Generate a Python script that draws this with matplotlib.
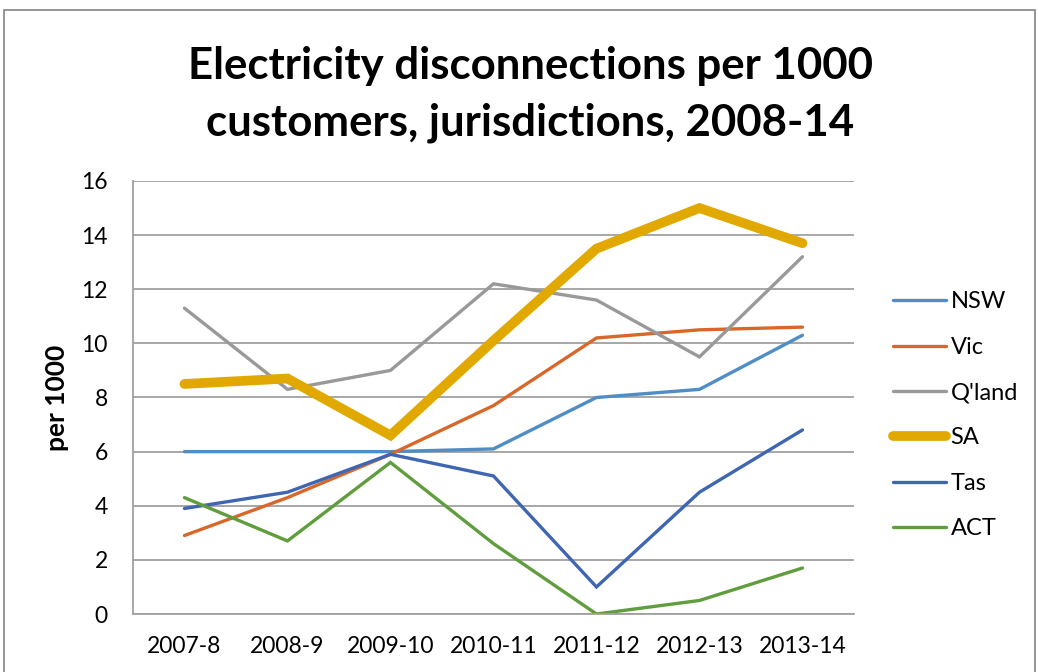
import matplotlib.pyplot as plt
from matplotlib.patches import Rectangle

# disconnections per 1000 customers, by financial year
years = ["2007-8", "2008-9", "2009-10", "2010-11", "2011-12", "2012-13", "2013-14"]
nsw = [6.0, 6.0, 6.0, 6.1, 8.0, 8.3, 10.3]
vic = [2.9, 4.3, 5.9, 7.7, 10.2, 10.5, 10.6]
qld = [11.3, 8.3, 9.0, 12.2, 11.6, 9.5, 13.2]
sa = [8.5, 8.7, 6.6, 10.1, 13.5, 15.0, 13.7]
tas = [3.9, 4.5, 5.9, 5.1, 1.0, 4.5, 6.8]
act = [4.3, 2.7, 5.6, 2.6, 0.0, 0.5, 1.7]

plt.rcParams['font.family'] = ['Lato', 'DejaVu Sans']

fig = plt.figure(figsize=(10.38, 6.72), dpi=100)
ax = fig.add_axes([0.1281, 0.0863, 0.6946, 0.6444])

x = range(len(years))
series = [
    ("NSW", nsw, "#4E8DC6", 2.4),
    ("Vic", vic, "#D8682A", 2.4),
    ("Q'land", qld, "#999999", 2.4),
    ("SA", sa, "#E1A900", 7.0),
    ("Tas", tas, "#3F66B3", 2.4),
    ("ACT", act, "#609D3D", 2.4),
]
for name, vals, col, lw in series:
    ax.plot(x, vals, color=col, lw=lw, label=name, solid_capstyle='round',
            solid_joinstyle='miter')

ax.set_xlim(-0.5, len(years) - 0.5)
ax.set_ylim(0, 16)
ax.set_yticks(range(0, 17, 2))
ax.set_xticks(list(x))
ax.set_xticklabels(years)
ax.tick_params(axis='both', length=0, labelsize=16.5, colors='black')
ax.tick_params(axis='y', pad=18)
ax.tick_params(axis='x', pad=16)
ax.grid(axis='y', color='#A0A0A0', lw=1.3)
ax.set_axisbelow(True)
for s in ['top', 'right']:
    ax.spines[s].set_visible(False)
for s in ['left', 'bottom']:
    ax.spines[s].set_color('#A0A0A0')
    ax.spines[s].set_linewidth(1.3)

ax.set_ylabel("per 1000", fontsize=19, fontweight='bold')
ax.yaxis.set_label_coords(-0.0887, 0.5)

fig.text(0.511, 0.859, "Electricity disconnections per 1000\ncustomers, jurisdictions, 2008-14",
         ha='center', va='center', fontsize=31.5, fontweight='bold', linespacing=1.5)

leg = ax.legend(loc='center left', bbox_to_anchor=(0.860, 0.382),
                bbox_transform=fig.transFigure, frameon=False, fontsize=17,
                labelspacing=1.03, handlelength=2.25, handletextpad=0.2,
                borderpad=0, borderaxespad=0)

# chart frame
fig.patches.append(Rectangle((0.004, -0.01), 0.993, 0.995, transform=fig.transFigure,
                             fill=False, edgecolor='#8C8C8C', lw=1.3))

fig.savefig("out.png", dpi=100)
